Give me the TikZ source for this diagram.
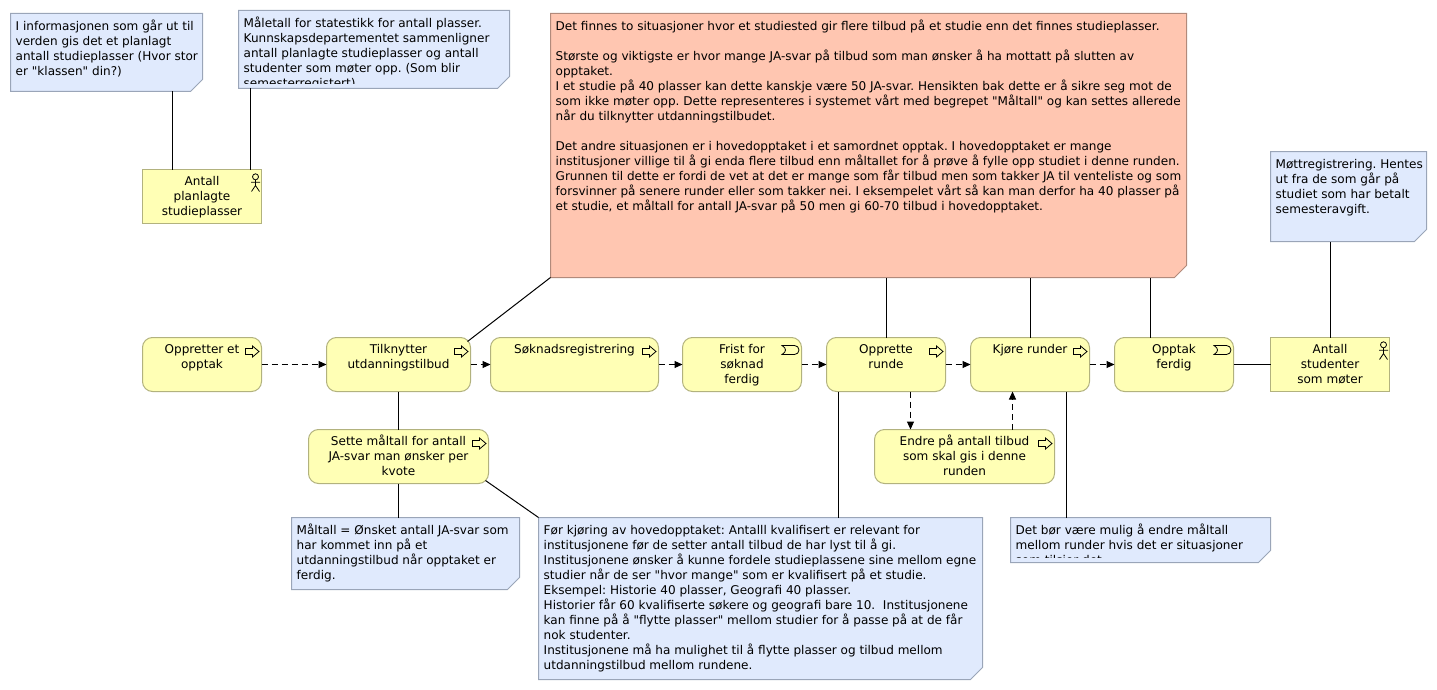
\documentclass[tikz,border=0pt]{standalone}
\usepackage{fontspec}
\defaultfontfeatures[\rmfamily]{}
\setmainfont{DejaVu Sans}
\usetikzlibrary{positioning, arrows.meta, calc}

\definecolor{elfill}{HTML}{FFFFB5}
\definecolor{eldraw}{HTML}{B2B27E}
\definecolor{notefill}{HTML}{E0EAFD}
\definecolor{notedraw}{HTML}{9AA5B8}
\definecolor{redfill}{HTML}{FFC6B1}
\definecolor{reddraw}{HTML}{B28A7B}

\newcommand{\tegnfont}{\fontsize{12.05}{15}\selectfont\frenchspacing}
\newcommand{\topp}{\rule{0pt}{12pt}}
\newcommand{\bunn}{\rule[-4pt]{0pt}{4pt}}
\newcommand{\notefigur}[2][]{\draw[draw=notedraw, fill=notefill, line width=1pt, #1] (#2.north west) -- (#2.north east) -- ([yshift=12pt]#2.south east) -- ([xshift=-12pt]#2.south east) -- (#2.south west) -- cycle;}

\tikzset{
    element/.style={draw=eldraw, fill=elfill, line width=1pt, inner sep=0pt, outer sep=0pt,
        align=center, font=\tegnfont},
    prosess/.style={element, rounded corners=10pt, minimum height=54pt},
    aktor/.style={element, minimum width=119pt, minimum height=54pt},
    note/.style={rectangle, inner sep=0pt, outer sep=0pt, anchor=north west},
    notetext/.style={inner sep=0pt, anchor=north west, align=left, font=\tegnfont},
    flyt/.style={->, line width=1pt, dash pattern=on 6pt off 4pt},
    kobling/.style={line width=1pt},
    procicon/.pic={\draw[line width=.8pt] (-16,11) -- (-9,11) -- (-9,8.5) -- (-2.5,14) -- (-9,19.5) -- (-9,17) -- (-16,17) -- cycle;},
    eventicon/.pic={\draw[line width=.8pt] (-19.5,8) -- (-7,8) arc[start angle=90, end angle=-90, radius=4.5pt] -- (-19.5,17) .. controls (-17,15.5) and (-16,14) .. (-16,12.5) .. controls (-16,11) and (-17,9.5) .. (-19.5,8) -- cycle;},
    aktoricon/.pic={\draw[line width=.8pt] (-6,7.3) circle[radius=3pt] (-6,10.3) -- (-6,16) (-10.5,12.8) -- (-1.5,12.8) (-10,22) -- (-6,16) -- (-2,22);}
}

\begin{document}
\begin{tikzpicture}[x=1pt, y=-1pt, shift={(.5,.5)}, >={Stealth[inset=0pt,length=8pt,width=7pt]}]

    \useasboundingbox (-.5,-.5) rectangle (1436.5,689.5);

    \node[note, minimum width=192pt, minimum height=78pt] (notePlan) at (10,13) {};
    \notefigur{notePlan}
    \node[notetext] (notePlanText) at ([shift={(5,5)}]notePlan.north west) {\topp I informasjonen som går ut til\\verden gis det et planlagt\\antall studieplasser (Hvor stor\\er "klassen" din?)};

    \node[note, minimum width=271pt, minimum height=78pt] (noteStat) at (238,10) {};
    \notefigur{noteStat}
    \begin{scope}
        \clip (noteStat.north west) rectangle ([yshift=5pt]noteStat.south east);
        \node[notetext] (noteStatText) at ([shift={(5,5)}]noteStat.north west) {\topp Måletall for statestikk for antall plasser.\\Kunnskapsdepartementet sammenligner\\antall planlagte studieplasser og antall\\studenter som møter opp. (Som blir\\semesterregistert)};
    \end{scope}

    \node[note, minimum width=636pt, minimum height=264pt] (noteRed) at (550,13) {};
    \notefigur[draw=reddraw, fill=redfill]{noteRed}
    \node[notetext] (noteRedText) at ([shift={(5,5)}]noteRed.north west) {\topp Det finnes to situasjoner hvor et studiested gir flere tilbud på et studie enn det finnes studieplasser.\\[15pt]Største og viktigste er hvor mange JA-svar på tilbud som man ønsker å ha mottatt på slutten av\\opptaket.\\I et studie på 40 plasser kan dette kanskje være 50 JA-svar. Hensikten bak dette er å sikre seg mot de\\som ikke møter opp. Dette representeres i systemet vårt med begrepet "Måltall" og kan settes allerede\\når du tilknytter utdanningstilbudet.\\[15pt]Det andre situasjonen er i hovedopptaket i et samordnet opptak. I hovedopptaket er mange\\institusjoner villige til å gi enda flere tilbud enn måltallet for å prøve å fylle opp studiet i denne runden.\\Grunnen til dette er fordi de vet at det er mange som får tilbud men som takker JA til venteliste og som\\forsvinner på senere runder eller som takker nei. I eksempelet vårt så kan man derfor ha 40 plasser på\\et studie, et måltall for antall JA-svar på 50 men gi 60-70 tilbud i hovedopptaket.};

    \node[note, minimum width=156pt, minimum height=90pt] (noteMott) at (1270,151) {};
    \notefigur{noteMott}
    \node[notetext] (noteMottText) at ([shift={(5,5)}]noteMott.north west) {\topp Møttregistrering. Hentes\\ut fra de som går på\\studiet som har betalt\\semesteravgift.};

    \node[aktor] (plan) at (201.5,196) {\topp Antall\\planlagte\\\bunn studieplasser};

    \node[prosess, minimum width=119pt] (opprett) at (201.5,364) {\topp Oppretter et\\opptak\\\bunn};
    \node[prosess, minimum width=144pt, right=65pt of opprett] (tilknytt) {\topp Tilknytter\\utdanningstilbud\\\bunn};
    \node[prosess, minimum width=168pt, right=20pt of tilknytt] (soknad) {\topp Søknadsregistrering\\\mbox{}\\\bunn};
    \node[prosess, minimum width=119pt, right=24pt of soknad] (frist) {\topp Frist for\\søknad\\\bunn ferdig};
    \node[prosess, minimum width=119pt, right=25pt of frist] (runde) {\topp Opprette\\runde\\\bunn};
    \node[prosess, minimum width=119pt, right=25pt of runde] (kjore) {\topp Kjøre runder\\\mbox{}\\\bunn};
    \node[prosess, minimum width=119pt, right=25pt of kjore] (ferdig) {\topp Opptak\\ferdig\\\bunn};
    \node[aktor, right=37pt of ferdig] (student) {\topp Antall\\studenter\\\bunn som møter};

    \node[prosess, minimum width=180pt, below=38pt of tilknytt] (sette) {\topp Sette måltall for antall\\JA-svar man ønsker per\\\bunn kvote};
    \node[prosess, minimum width=180pt] (endre) at (964,456) {\topp Endre på antall tilbud\\som skal gis i denne\\\bunn runden};

    \node[note, minimum width=228pt, minimum height=72pt] (noteMal) at (291,517) {};
    \notefigur{noteMal}
    \node[notetext] (noteMalText) at ([shift={(5,5)}]noteMal.north west) {\topp Måltall = Ønsket antall JA-svar som\\har kommet inn på et\\utdanningstilbud når opptaket er\\ferdig.};

    \node[note, minimum width=444pt, minimum height=162pt] (noteFor) at (538,517) {};
    \notefigur{noteFor}
    \node[notetext] (noteForText) at ([shift={(5,5)}]noteFor.north west) {\topp Før kjøring av hovedopptaket: Antalll kvalifisert er relevant for\\institusjonene før de setter antall tilbud de har lyst til å gi.\\Institusjonene ønsker å kunne fordele studieplassene sine mellom egne\\studier når de ser "hvor mange" som er kvalifisert på et studie.\\Eksempel: Historie 40 plasser, Geografi 40 plasser.\\Historier får 60 kvalifiserte søkere og geografi bare 10.\ \ Institusjonene\\kan finne på å "flytte plasser" mellom studier for å passe på at de får\\nok studenter.\\Institusjonene må ha mulighet til å flytte plasser og tilbud mellom\\utdanningstilbud mellom rundene.};

    \node[note, minimum width=260pt, minimum height=45pt] (noteEndre) at (1010,517) {};
    \notefigur{noteEndre}
    \begin{scope}
        \clip (noteEndre.north west) rectangle ([yshift=5pt]noteEndre.south east);
        \node[notetext] (noteEndreText) at ([shift={(5,5)}]noteEndre.north west) {\topp Det bør være mulig å endre måltall\\mellom runder hvis det er situasjoner\\som tilsier det};
    \end{scope}

    \foreach \n in {opprett,tilknytt,soknad,runde,kjore,sette,endre}
        \pic at (\n.north east) {procicon};
    \foreach \n in {frist,ferdig}
        \pic at (\n.north east) {eventicon};
    \foreach \n in {plan,student}
        \pic at (\n.north east) {aktoricon};

    \foreach \a/\b in {opprett/tilknytt,tilknytt/soknad,soknad/frist,frist/runde,runde/kjore,kjore/ferdig}
        \draw[flyt] (\a) -- (\b);
    \draw[flyt] ([xshift=84pt]runde.south west) -- ([xshift=36pt]endre.north west);
    \draw[flyt] ([xshift=138pt]endre.north west) -- ([xshift=42pt]kjore.south west);

    \draw[kobling] ([xshift=30pt]plan.north west) -- ([xshift=30pt]plan.north west |- notePlan.south);
    \draw[kobling] ([xshift=108pt]plan.north west) -- ([xshift=108pt]plan.north west |- noteStat.south);
    \draw[kobling] (noteRed.south west) -- ($(tilknytt.north east)+(-3,4)$);
    \draw[kobling] ([xshift=.5pt]runde.north) -- ([xshift=.5pt]runde.north |- noteRed.south);
    \draw[kobling] ([xshift=.5pt]kjore.north) -- ([xshift=.5pt]kjore.north |- noteRed.south);
    \draw[kobling] ([xshift=36pt]ferdig.north west) -- ([xshift=36pt]ferdig.north west |- noteRed.south);
    \draw[kobling] ([xshift=.5pt]student.north) -- ([xshift=.5pt]student.north |- noteMott.south);
    \draw[kobling] (ferdig) -- (student);
    \draw[kobling] (tilknytt) -- (sette);
    \draw[kobling] (sette.south) -- (sette.south |- noteMal.north);
    \draw[kobling] ($(sette.south east)+(-3,-3)$) -- (noteFor.north west);
    \draw[kobling] ([xshift=12pt]runde.south west) -- ([xshift=12pt]runde.south west |- noteFor.north);
    \draw[kobling] ([xshift=96pt]kjore.south west) -- ([xshift=96pt]kjore.south west |- noteEndre.north);

\end{tikzpicture}
\end{document}
